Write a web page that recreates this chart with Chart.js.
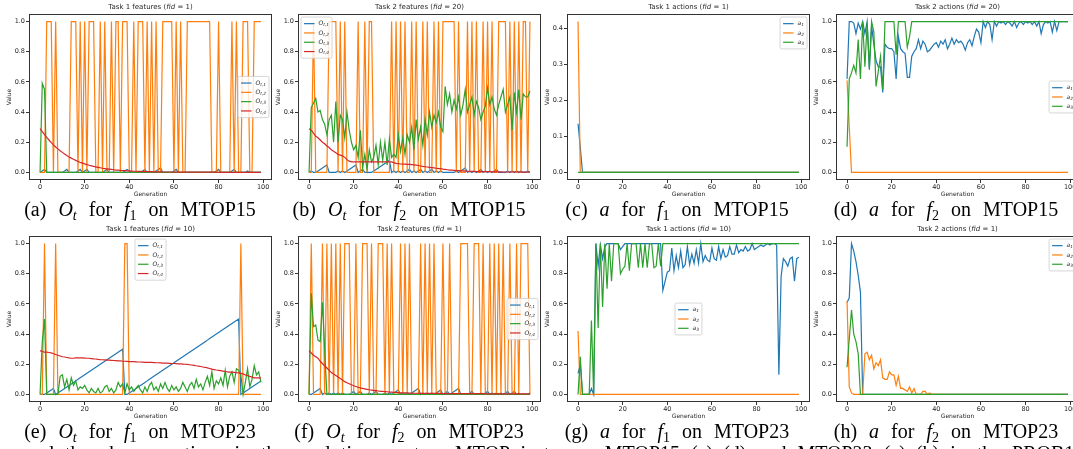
<!DOCTYPE html>
<html><head><meta charset="utf-8">
<script src="https://cdn.jsdelivr.net/npm/chart.js@4.4.0/dist/chart.umd.min.js"></script>
<style>
html,body{margin:0;padding:0;width:1073px;height:449px;overflow:hidden;background:#fff;position:relative;}
canvas{position:absolute;}
.cap{position:absolute;font-family:'Liberation Serif','Times New Roman',serif;font-size:20px;line-height:22px;white-space:nowrap;color:#000;transform:translateX(-50%);word-spacing:7px;}
.cap sub{font-size:14px;vertical-align:-4px;line-height:0;}
.txt{position:absolute;font-family:'Liberation Serif','Times New Roman',serif;font-size:20px;line-height:22px;white-space:nowrap;color:#000;word-spacing:6px;}
</style></head><body>

<canvas id="ca" width="272" height="200" style="left:0px;top:0px"></canvas>
<canvas id="cb" width="272" height="200" style="left:269px;top:0px"></canvas>
<canvas id="cc" width="272" height="200" style="left:538px;top:0px"></canvas>
<canvas id="cd" width="272" height="200" style="left:807px;top:0px"></canvas>
<canvas id="ce" width="272" height="200" style="left:0px;top:222px"></canvas>
<canvas id="cf" width="272" height="200" style="left:269px;top:222px"></canvas>
<canvas id="cg" width="272" height="200" style="left:538px;top:222px"></canvas>
<canvas id="ch" width="272" height="200" style="left:807px;top:222px"></canvas>

<div class="cap" style="left:140px;top:198px">(a) <i>O<sub>t</sub></i> for <i>f</i><sub>1</sub> on MTOP15</div>
<div class="cap" style="left:409px;top:198px">(b) <i>O<sub>t</sub></i> for <i>f</i><sub>2</sub> on MTOP15</div>
<div class="cap" style="left:677px;top:198px">(c) <i>a</i> for <i>f</i><sub>1</sub> on MTOP15</div>
<div class="cap" style="left:946px;top:198px">(d) <i>a</i> for <i>f</i><sub>2</sub> on MTOP15</div>
<div class="cap" style="left:140px;top:420px">(e) <i>O<sub>t</sub></i> for <i>f</i><sub>1</sub> on MTOP23</div>
<div class="cap" style="left:409px;top:420px">(f) <i>O<sub>t</sub></i> for <i>f</i><sub>2</sub> on MTOP23</div>
<div class="cap" style="left:677px;top:420px">(g) <i>a</i> for <i>f</i><sub>1</sub> on MTOP23</div>
<div class="cap" style="left:946px;top:420px">(h) <i>a</i> for <i>f</i><sub>2</sub> on MTOP23</div>
<div class="txt" style="left:25px;top:442px">and the chosen actions in the evolution on two MTOP instances MTOP15 (a)–(d) and MTOP23 (e)–(h) in the PROB1 problem.</div>

<script>
// ---------- shared categories / ticks ----------
const GENERATIONS = Array.from({length: 100}, (_, i) => i);
const X_TICKS = [0, 20, 40, 60, 80, 100];
const Y_TICKS_UNIT = [0, 0.2, 0.4, 0.6, 0.8, 1.0];
const Y_TICKS_SMALL = [0, 0.1, 0.2, 0.3, 0.4];

// ---------- (a) Task 1 features fid=1, MTOP15 ----------
const A_O1 = [0,0.01,0.02,0,0,0,0,0,0,0,
  0,0.01,0.02,0,0,0,0,0.01,0.02,0,
  0.01,0.02,0,0,0,0,0,0,0,0.01,
  0.02,0,0,0,0,0,0,0,0.01,0.02,
  0.01,0,0,0,0,0,0.01,0.02,0,0,
  0,0,0.01,0.02,0.03,0,0,0,0,0,
  0.01,0.02,0,0,0,0,0,0,0,0,
  0,0,0,0,0,0,0,0,0,0.01,
  0.02,0,0,0,0,0,0.01,0.02,0,0,
  0,0,0,0.01,0,0,0,0,0,0];
const A_O2 = [0,0,0,1,1,1,0,1,0,0,
  0,0,0,0,1,1,1,0,1,0,
  1,0,1,1,1,0,0,1,0,1,
  0,0,1,0,1,1,0,1,1,1,
  0,0,1,0,1,1,1,0,1,0,
  1,0,1,0,0,1,1,1,1,1,
  0,1,0,1,0,0,1,1,1,1,
  1,1,1,1,1,1,1,0,0,0,
  1,0,0,0,0,0,1,0,1,0,
  0,1,1,1,0,0,1,1,1,1];
const A_O3 = [0,0.59,0.55,0,0,0,0,0,0,0,
  0,0,0,0,0,0,0,0,0,0,
  0,0,0,0,0,0,0,0,0,0,
  0,0,0,0,0,0,0,0,0,0,
  0,0,0,0,0,0,0,0,0,0,
  0,0,0,0,0,0,0,0,0,0,
  0,0,0,0,0,0,0,0,0,0,
  0,0,0,0,0,0,0,0,0,0,
  0,0,0,0,0,0,0,0,0,0,
  0,0,0,0,0,0,0,0,0,0];
const A_O4 = [0.29,0.27,0.25,0.232,0.215,0.198,0.183,0.169,0.156,0.144,
  0.133,0.122,0.112,0.103,0.095,0.087,0.08,0.073,0.067,0.062,
  0.057,0.052,0.048,0.044,0.04,0.037,0.034,0.031,0.028,0.026,
  0.024,0.022,0.02,0.018,0.016,0.015,0.014,0.013,0.012,0.011,
  0.01,0.009,0.008,0.008,0.007,0.007,0.006,0.006,0.005,0.005,
  0.005,0.004,0.004,0.004,0.004,0.003,0.003,0.003,0.003,0.003,
  0.002,0.002,0.002,0.002,0.002,0.002,0.002,0.002,0.002,0.002,
  0.002,0.002,0.002,0.002,0.002,0.002,0.002,0.002,0.002,0.002,
  0.001,0.001,0.001,0.001,0.001,0.001,0.001,0.001,0.001,0.001,
  0.001,0.001,0.001,0.001,0.001,0.001,0.001,0.001,0.001,0.001];

// ---------- (b) Task 2 features fid=20, MTOP15 ----------
const B_O1 = [0,0.01,0,0,0.01,0.02,0.03,0.04,0.05,0,
  0,0,0,0.01,0,0.01,0,0.01,0.02,0.03,
  0.04,0.05,0,0.01,0.02,0,0,0,0,0.01,
  0.02,0.03,0.04,0.05,0.06,0.07,0.08,0,0.01,0,
  0.01,0,0.01,0,0.01,0.02,0,0.01,0,0.01,
  0.02,0,0.01,0,0.01,0.02,0,0.01,0,0.01,
  0,0,0,0,0,0,0.01,0,0.01,0.02,
  0.03,0,0.01,0,0.01,0,0.01,0.02,0,0.01,
  0,0.01,0,0.01,0.02,0,0,0,0,0.01,
  0,0.01,0,0.01,0,0.01,0,0,0.01,0];
const B_O2 = [0,0,1,0,0,0,0,0,0,1,
  1,1,1,0,1,0,1,0,0,0,
  0,0,1,0,0,1,0,1,1,0,
  0,0,0,0,0,0,0,1,0,1,
  0,1,0,1,0,0,1,0,1,0,
  0,1,0,1,0,0,1,0,1,0,
  1,1,1,1,1,1,0,1,0,0,
  0,1,0,1,0,1,0,0,1,0,
  1,0,1,0,0,1,1,1,1,0,
  1,0,1,0,1,0,1,1,0,1];
const B_O3 = [0,0.43,0.46,0.49,0.4,0.41,0.35,0.32,0.25,0.35,
  0.38,0.2,0.47,0.2,0.38,0.35,0.23,0.4,0.28,0.2,
  0.15,0.18,0.1,0.28,0.03,0.12,0.02,0.15,0.07,0.1,
  0.18,0.05,0.2,0.08,0.2,0.05,0.22,0.1,0.12,0.1,
  0.25,0.14,0.23,0.12,0.25,0.2,0.3,0.15,0.35,0.22,
  0.3,0.18,0.35,0.25,0.4,0.3,0.38,0.33,0.4,0.3,
  0.27,0.57,0.45,0.52,0.4,0.48,0.42,0.5,0.38,0.45,
  0.55,0.4,0.45,0.5,0.38,0.47,0.43,0.35,0.4,0.44,
  0.56,0.45,0.5,0.42,0.38,0.45,0.5,0.55,0.4,0.45,
  0.5,0.28,0.53,0.4,0.55,0.35,0.52,0.5,0.5,0.54];
const B_O4 = [0.29,0.28,0.26,0.24,0.23,0.215,0.2,0.19,0.175,0.165,
  0.15,0.14,0.13,0.12,0.115,0.11,0.1,0.085,0.075,0.07,
  0.07,0.07,0.07,0.07,0.07,0.07,0.07,0.07,0.07,0.07,
  0.07,0.07,0.07,0.07,0.07,0.07,0.07,0.07,0.065,0.06,
  0.058,0.056,0.055,0.055,0.054,0.053,0.052,0.05,0.048,0.046,
  0.043,0.04,0.038,0.036,0.034,0.032,0.03,0.028,0.026,0.025,
  0.022,0.02,0.018,0.016,0.015,0.014,0.013,0.012,0.011,0.01,
  0.009,0.008,0.008,0.007,0.007,0.006,0.006,0.006,0.005,0.005,
  0.005,0.005,0.004,0.004,0.004,0.004,0.004,0.003,0.003,0.003,
  0.003,0.003,0.003,0.003,0.002,0.002,0.002,0.002,0.002,0.002];

// ---------- (c) Task 1 actions fid=1, MTOP15 ----------
const C_A1 = [0.135,0.07,0,0,0,0,0,0,0,0,
  0,0,0,0,0,0,0,0,0,0, 0,0,0,0,0,0,0,0,0,0,
  0,0,0,0,0,0,0,0,0,0, 0,0,0,0,0,0,0,0,0,0,
  0,0,0,0,0,0,0,0,0,0, 0,0,0,0,0,0,0,0,0,0,
  0,0,0,0,0,0,0,0,0,0, 0,0,0,0,0,0,0,0,0,0,
  0,0,0,0,0,0,0,0,0,0];
const C_A2 = [0.418,0,0,0,0,0,0,0,0,0,
  0,0,0,0,0,0,0,0,0,0, 0,0,0,0,0,0,0,0,0,0,
  0,0,0,0,0,0,0,0,0,0, 0,0,0,0,0,0,0,0,0,0,
  0,0,0,0,0,0,0,0,0,0, 0,0,0,0,0,0,0,0,0,0,
  0,0,0,0,0,0,0,0,0,0, 0,0,0,0,0,0,0,0,0,0,
  0,0,0,0,0,0,0,0,0,0];
const C_A3 = [0,0,0,0,0,0,0,0,0,0,
  0,0,0,0,0,0,0,0,0,0, 0,0,0,0,0,0,0,0,0,0,
  0,0,0,0,0,0,0,0,0,0, 0,0,0,0,0,0,0,0,0,0,
  0,0,0,0,0,0,0,0,0,0, 0,0,0,0,0,0,0,0,0,0,
  0,0,0,0,0,0,0,0,0,0, 0,0,0,0,0,0,0,0,0,0,
  0,0,0,0,0,0,0,0,0,0];

// ---------- (d) Task 2 actions fid=20, MTOP15 ----------
const D_A1 = [0.62,1.0,1.0,0.99,0.92,0.99,0.95,1.0,0.92,1.0,
  0.68,0.97,0.85,0.74,0.7,0.7,0.53,0.85,0.83,0.82,
  0.82,0.8,0.62,0.9,0.82,0.8,0.79,0.63,0.63,0.77,
  0.8,0.82,0.88,0.82,0.87,0.85,0.8,0.81,0.83,0.85,
  0.86,0.83,0.87,0.85,0.88,0.82,0.85,0.89,0.85,0.88,
  0.86,0.87,0.85,0.81,0.86,0.88,0.84,0.9,0.95,0.93,
  0.86,1.0,0.96,1.0,0.98,0.88,1.0,0.97,1.0,0.99,
  1.0,0.98,1.0,0.99,0.97,1.0,0.96,0.99,1.0,0.98,
  1.0,0.99,1.0,0.98,1.0,0.97,1.0,0.92,0.98,1.0,
  0.99,1.0,0.93,1.0,0.94,1.0,1.0,1.0,1.0,1.0];
const D_A2 = [0.61,0.3,0,0,0,0,0,0,0,0,
  0,0,0,0,0,0,0,0,0,0, 0,0,0,0,0,0,0,0,0,0,
  0,0,0,0,0,0,0,0,0,0, 0,0,0,0,0,0,0,0,0,0,
  0,0,0,0,0,0,0,0,0,0, 0,0,0,0,0,0,0,0,0,0,
  0,0,0,0,0,0,0,0,0,0, 0,0,0,0,0,0,0,0,0,0,
  0,0,0,0,0,0,0,0,0,0];
const D_A3 = [0.17,0.62,0.66,0.71,0.66,0.88,0.62,1.0,0.7,0.99,
  0.69,1.0,0.93,0.57,0.67,0.77,0.55,1.0,1.0,1.0,
  1.0,1.0,0.78,1.0,1.0,1.0,1.0,0.83,0.9,1.0,
  1,1,1,1,1,1,1,1,1,1, 1,1,1,1,1,1,1,1,1,1,
  1,1,1,1,1,1,1,1,1,1, 1,1,1,1,1,1,1,1,1,1,
  1,1,1,1,1,1,1,1,1,1, 1,1,1,1,1,1,1,1,1,1,
  1,1,1,1,1,1,1,1,1,1];

// ---------- (e) Task 1 features fid=10, MTOP23 ----------
const E_O1 = [0,0,0,0.01,0.02,0.03,0.04,0,0.01,0.02,
  0.03,0.04,0.05,0.06,0.07,0.08,0.09,0.1,0.11,0.12,
  0.13,0.14,0.15,0.16,0.17,0.18,0.19,0.2,0.21,0.22,
  0.23,0.24,0.25,0.26,0.27,0.28,0.29,0.3,0,0,
  0.01,0.02,0.03,0.04,0.05,0.06,0.07,0.08,0.09,0.1,
  0.11,0.12,0.13,0.14,0.15,0.16,0.17,0.18,0.19,0.2,
  0.21,0.22,0.23,0.24,0.25,0.26,0.27,0.28,0.29,0.3,
  0.31,0.32,0.33,0.34,0.35,0.36,0.37,0.38,0.39,0.4,
  0.41,0.42,0.43,0.44,0.45,0.46,0.47,0.48,0.49,0.5,
  0,0.01,0.02,0.03,0.04,0.05,0.06,0.07,0.08,0.09];
const E_O2 = [0,0,1,0,0,0,0,1,0,0,
  0,0,0,0,0,0,0,0,0,0, 0,0,0,0,0,0,0,0,0,0,
  0,0,0,0,0,0,0,0,1,1, 0,0,0,0,0,0,0,0,0,0,
  0,0,0,0,0,0,0,0,0,0, 0,0,0,0,0,0,0,0,0,0,
  0,0,0,0,0,0,0,0,0,0, 0,0,0,0,0,0,0,0,0,0,
  1,0,0,0,0,0,0,0,0,0];
const E_O3 = [0,0.35,0.5,0,0,0,0,0,0,0.12,
  0.13,0.05,0.1,0.03,0.11,0.06,0.09,0.03,0.05,0.04,
  0.06,0.03,0.01,0.04,0.02,0.01,0.04,0.01,0.02,0.05,
  0.06,0.02,0.04,0.01,0.03,0.08,0.05,0.07,0.01,0.07,
  0.03,0.05,0.02,0.04,0.06,0.03,0.01,0.05,0.02,0.06,
  0.08,0.03,0.05,0.02,0.07,0.04,0.08,0.04,0.02,0.06,
  0.03,0.05,0.02,0.04,0.08,0.05,0.02,0.06,0.08,0.04,
  0.1,0.05,0.07,0.03,0.08,0.12,0.06,0.15,0.04,0.09,
  0.07,0.11,0.06,0.16,0.05,0.12,0.15,0.08,0.17,0.16,
  0.13,0.0,0.08,0.17,0.05,0.1,0.19,0.13,0.15,0.08];
const E_O4 = [0.29,0.285,0.28,0.28,0.278,0.275,0.27,0.265,0.26,0.255,
  0.25,0.248,0.245,0.242,0.24,0.24,0.242,0.243,0.242,0.242,
  0.241,0.24,0.24,0.238,0.236,0.235,0.232,0.23,0.23,0.229,
  0.228,0.227,0.226,0.225,0.224,0.223,0.222,0.22,0.22,0.219,
  0.218,0.218,0.217,0.216,0.215,0.215,0.214,0.213,0.213,0.212,
  0.212,0.211,0.21,0.21,0.209,0.208,0.208,0.207,0.206,0.205,
  0.205,0.204,0.203,0.202,0.201,0.2,0.199,0.197,0.195,0.193,
  0.19,0.188,0.185,0.182,0.18,0.176,0.172,0.168,0.165,0.162,
  0.16,0.158,0.155,0.152,0.15,0.148,0.148,0.146,0.144,0.143,
  0.14,0.136,0.13,0.125,0.12,0.115,0.11,0.11,0.11,0.108];

// ---------- (f) Task 2 features fid=1, MTOP23 ----------
const F_O1 = [0,0,0.01,0.02,0.03,0.04,0,0.01,0,0.01,
  0,0.01,0,0.01,0,0.01,0,0,0,0.01,
  0.02,0,0.01,0.02,0,0,0,0.01,0,0.01,
  0.02,0,0,0,0.01,0,0.01,0,0.01,0.02,
  0.03,0,0.01,0,0.01,0,0.01,0.02,0.03,0.04,
  0,0.01,0,0.01,0,0.01,0,0.01,0.02,0.03,
  0,0.01,0.02,0,0.01,0.02,0.03,0.04,0,0,
  0,0,0.01,0.02,0,0,0,0.01,0,0.01,
  0.02,0,0.01,0,0.01,0,0.01,0,0.01,0.02,
  0,0.01,0.02,0,0.01,0,0,0,0,0.01];
const F_O2 = [0,1,0,0,0,0,1,0,1,0,
  1,0,1,0,1,0,1,1,1,0,
  0,1,0,0,1,1,1,0,1,0,
  0,1,1,1,0,1,0,1,0,0,
  0,1,0,1,0,1,0,0,0,0,
  1,0,1,0,1,0,1,0,0,0,
  1,0,0,1,0,0,0,0,1,1,
  1,1,0,0,1,1,1,0,1,0,
  0,1,0,1,0,1,0,1,0,0,
  1,0,0,1,0,1,1,1,1,0];
const F_O3 = [0,0.67,0.45,0.46,0.36,0.35,0.61,0.3,0,0,
  0,0,0,0,0,0,0,0,0,0, 0,0,0,0,0,0,0,0,0,0,
  0,0,0,0,0,0,0,0,0,0, 0,0,0,0,0,0,0,0,0,0,
  0,0,0,0,0,0,0,0,0,0, 0,0,0,0,0,0,0,0,0,0,
  0,0,0,0,0,0,0,0,0,0, 0,0,0,0,0,0,0,0,0,0,
  0,0,0,0,0,0,0,0,0,0];
const F_O4 = [0.29,0.275,0.26,0.25,0.24,0.22,0.205,0.19,0.175,0.16,
  0.145,0.135,0.125,0.115,0.105,0.095,0.085,0.078,0.071,0.064,
  0.058,0.053,0.048,0.044,0.04,0.037,0.034,0.031,0.029,0.027,
  0.025,0.023,0.021,0.02,0.019,0.018,0.016,0.015,0.014,0.013,
  0.012,0.011,0.011,0.01,0.01,0.009,0.009,0.008,0.008,0.008,
  0.007,0.007,0.007,0.007,0.007,0.007,0.007,0.007,0.007,0.007,
  0.006,0.006,0.006,0.006,0.006,0.006,0.006,0.006,0.006,0.006,
  0.005,0.005,0.005,0.005,0.005,0.005,0.005,0.005,0.005,0.005,
  0.004,0.004,0.004,0.004,0.004,0.004,0.004,0.004,0.004,0.004,
  0.004,0.004,0.004,0.004,0.004,0.004,0.004,0.004,0.004,0.004];

// ---------- (g) Task 1 actions fid=10, MTOP23 ----------
const G_A1 = [0.14,0.2,0,0,0,0,0.04,0,1.0,0.85,
  0.99,0.9,0.98,1.0,1.0,1.0,1.0,1.0,1.0,0.96,
  0.98,1.0,1.0,1.0,1.0,1.0,1.0,1.0,1.0,1.0,
  1.0,1.0,1.0,1.0,1.0,1.0,1.0,1.0,0.69,0.75,
  0.81,0.82,0.97,0.82,0.92,0.84,0.95,0.84,0.86,0.98,
  0.86,0.93,0.87,0.96,0.87,1.0,0.88,0.92,0.89,0.88,
  0.97,0.9,0.89,0.98,0.9,0.96,0.91,0.92,0.98,0.93,
  0.93,0.99,0.94,0.96,0.95,0.98,0.95,0.96,1.0,0.96,
  0.97,0.98,0.99,0.98,0.99,1.0,0.99,1.0,1.0,0.99,
  0.13,0.78,0.9,0.88,0.85,0.9,0.91,0.75,0.9,0.91];
const G_A2 = [0.42,0,0,0,0,0,0,0,0,0,
  0,0,0,0,0,0,0,0,0,0, 0,0,0,0,0,0,0,0,0,0,
  0,0,0,0,0,0,0,0,0,0, 0,0,0,0,0,0,0,0,0,0,
  0,0,0,0,0,0,0,0,0,0, 0,0,0,0,0,0,0,0,0,0,
  0,0,0,0,0,0,0,0,0,0, 0,0,0,0,0,0,0,0,0,0,
  0,0,0,0,0,0,0,0,0,0];
const G_A3 = [0,0.25,0,0,0,0,0.49,0,1.0,0.44,
  1.0,0.58,1.0,0.7,1.0,0.75,1.0,1.0,1.0,0.8,
  0.83,0.85,1.0,0.82,1.0,1.0,1.0,0.84,1.0,0.84,
  1.0,0.84,1.0,1.0,0.84,0.85,1.0,0.85,1.0,1.0,
  1,1,1,1,1,1,1,1,1,1, 1,1,1,1,1,1,1,1,1,1,
  1,1,1,1,1,1,1,1,1,1, 1,1,1,1,1,1,1,1,1,1,
  1,1,1,1,1,1,1,1,1,1, 1,1,1,1,1,1,1,1,1,1];

// ---------- (h) Task 2 actions fid=1, MTOP23 ----------
const H_A1 = [0.61,0.64,1.0,0.95,0.88,0.79,0.68,0,0,0,
  0,0,0,0,0,0,0,0,0,0, 0,0,0,0,0,0,0,0,0,0,
  0,0,0,0,0,0,0,0,0,0, 0,0,0,0,0,0,0,0,0,0,
  0,0,0,0,0,0,0,0,0,0, 0,0,0,0,0,0,0,0,0,0,
  0,0,0,0,0,0,0,0,0,0, 0,0,0,0,0,0,0,0,0,0,
  0,0,0,0,0,0,0,0,0,0];
const H_A2 = [0.62,0.05,0.01,0,0,0,0,0,0.27,0.28,
  0.23,0.26,0.17,0.21,0.19,0.23,0.11,0.1,0.1,0.15,
  0.13,0.13,0.06,0.12,0.04,0.04,0.03,0.02,0.05,0.01,
  0.04,0,0,0,0.02,0.02,0,0.01,0,0,
  0,0,0,0,0,0,0,0,0,0, 0,0,0,0,0,0,0,0,0,0,
  0,0,0,0,0,0,0,0,0,0, 0,0,0,0,0,0,0,0,0,0,
  0,0,0,0,0,0,0,0,0,0, 0,0,0,0,0,0,0,0,0,0];
const H_A3 = [0.18,0.37,0.56,0.4,0.35,0.27,0,0,0,0,
  0,0,0,0,0,0,0,0,0,0, 0,0,0,0,0,0,0,0,0,0,
  0,0,0,0,0,0,0,0,0,0, 0,0,0,0,0,0,0,0,0,0,
  0,0,0,0,0,0,0,0,0,0, 0,0,0,0,0,0,0,0,0,0,
  0,0,0,0,0,0,0,0,0,0, 0,0,0,0,0,0,0,0,0,0,
  0,0,0,0,0,0,0,0,0,0];

// ---------- styling ----------
const COLORS = ['#1f77b4', '#ff7f0e', '#2ca02c', '#d62728'];
const O_LABELS = [{m:'O', s:'t,1'}, {m:'O', s:'t,2'}, {m:'O', s:'t,3'}, {m:'O', s:'t,4'}];
const A_LABELS = [{m:'a', s:'1'}, {m:'a', s:'2'}, {m:'a', s:'3'}];
const FONT = '"DejaVu Sans", sans-serif';
const INK = '#262626';

function drawRich(ctx, segs, cx, cy, size) {
  let total = 0;
  const widths = segs.map(([t, it]) => {
    ctx.font = (it ? 'italic ' : '') + size + 'px ' + FONT;
    const w = ctx.measureText(t).width; total += w; return w;
  });
  let x = cx - total / 2;
  ctx.textBaseline = 'middle'; ctx.textAlign = 'left'; ctx.fillStyle = INK;
  segs.forEach(([t, it], i) => {
    ctx.font = (it ? 'italic ' : '') + size + 'px ' + FONT;
    ctx.fillText(t, x, cy); x += widths[i];
  });
}

function drawLegend(ctx, ca, lg) {
  const items = lg.items, n = items.length;
  const mainF = 'italic 6px ' + FONT, subF = 'italic 4.3px ' + FONT;
  let tw = 0;
  for (const it of items) {
    ctx.font = mainF; let w = ctx.measureText(it.m).width;
    ctx.font = subF; w += ctx.measureText(it.s).width;
    tw = Math.max(tw, w);
  }
  const pad = 2.5, hl = 10.5, gap = 4, rowH = 9.3, m = 3;
  const bw = pad + hl + gap + tw + pad + 1, bh = n * rowH + 2 * pad - 1;
  let x, y;
  const loc = lg.loc;
  if (loc.includes('left')) x = ca.left + m;
  else if (loc.includes('right')) x = ca.right - m - bw;
  else x = (ca.left + ca.right) / 2 - bw / 2;
  if (loc.startsWith('upper')) y = ca.top + m;
  else if (loc.startsWith('lower')) y = ca.bottom - m - bh;
  else y = (ca.top + ca.bottom) / 2 - bh / 2;
  ctx.beginPath();
  if (ctx.roundRect) ctx.roundRect(x, y, bw, bh, 1.5); else ctx.rect(x, y, bw, bh);
  ctx.fillStyle = 'rgba(255,255,255,0.8)'; ctx.fill();
  ctx.strokeStyle = '#cccccc'; ctx.lineWidth = 0.8; ctx.stroke();
  items.forEach((it, i) => {
    const cy = y + pad + rowH * i + rowH / 2 - 0.5;
    ctx.strokeStyle = lg.colors[i]; ctx.lineWidth = 1.2;
    ctx.beginPath(); ctx.moveTo(x + pad + 0.5, cy); ctx.lineTo(x + pad + 0.5 + hl, cy); ctx.stroke();
    let tx = x + pad + 0.5 + hl + gap;
    ctx.fillStyle = INK; ctx.textBaseline = 'middle'; ctx.textAlign = 'left';
    ctx.font = mainF; ctx.fillText(it.m, tx, cy);
    tx += ctx.measureText(it.m).width;
    ctx.font = subF; ctx.fillText(it.s, tx, cy + 1.6);
  });
}

const decorPlugin = {
  id: 'decor',
  afterDatasetsDraw(chart) {
    const d = chart.canvas._decor; if (!d) return;
    const {ctx, chartArea: ca} = chart;
    ctx.save();
    ctx.strokeStyle = '#333'; ctx.lineWidth = 1;
    const L = Math.round(ca.left) + 0.5, T = Math.round(ca.top) + 0.5;
    const R = Math.round(ca.right) - 0.5, B = Math.round(ca.bottom) - 0.5;
    ctx.strokeRect(L, T, R - L, B - T);
    drawRich(ctx, d.title, (ca.left + ca.right) / 2, ca.top - 7, 7);
    drawLegend(ctx, ca, d.legend);
    ctx.restore();
  }
};

function makeChart(id, series, labels, title, loc, yMin, yMax, yTicks) {
  const canvas = document.getElementById(id);
  canvas._decor = {title, legend: {items: labels, loc, colors: COLORS}};
  const n = series.length;
  const datasets = series.map((arr, i) => ({
    label: labels[i].m + labels[i].s,
    data: GENERATIONS.map((g, j) => ({x: g, y: arr[j]})),
    borderColor: COLORS[i], backgroundColor: COLORS[i],
    borderWidth: 1.2, pointRadius: 0, tension: 0, fill: false,
    order: n - 1 - i
  }));
  const tickFont = {family: FONT, size: 6.5};
  new Chart(canvas, {
    type: 'line',
    data: {datasets},
    options: {
      responsive: false, animation: false, devicePixelRatio: 1,
      layout: {padding: {left: 4, top: 14, right: 0, bottom: 0}},
      plugins: {legend: {display: false}, tooltip: {enabled: false}, title: {display: false}},
      scales: {
        x: {
          type: 'linear', min: -4.95, max: 103.95, bounds: 'data',
          afterBuildTicks: s => { s.ticks = X_TICKS.map(v => ({value: v})); },
          afterFit: s => { s.height = 20; },
          ticks: {font: tickFont, color: INK, padding: 0, maxRotation: 0, autoSkip: false,
                  callback: v => String(v)},
          grid: {drawOnChartArea: false, drawTicks: true, tickLength: 3, color: '#333', lineWidth: 1},
          border: {display: false},
          title: {display: true, text: 'Generation', font: {family: FONT, size: 6}, color: INK,
                  padding: {top: 0, bottom: 2}}
        },
        y: {
          type: 'linear', min: yMin, max: yMax, bounds: 'data',
          afterBuildTicks: s => { s.ticks = yTicks.map(v => ({value: v})); },
          afterFit: s => { s.width = 25; },
          ticks: {font: tickFont, color: INK, padding: 1, autoSkip: false,
                  callback: v => Number(v).toFixed(1)},
          grid: {drawOnChartArea: false, drawTicks: true, tickLength: 3, color: '#333', lineWidth: 1},
          border: {display: false},
          title: {display: true, text: 'Value', font: {family: FONT, size: 6}, color: INK,
                  padding: {top: 2, bottom: 0}}
        }
      }
    },
    plugins: [decorPlugin]
  });
}

const T = (pre, fid) => [[pre + ' (', false], ['fid', true], [' = ' + fid + ')', false]];

makeChart('ca', [A_O1, A_O2, A_O3, A_O4], O_LABELS, T('Task 1 features', 1), 'center right', -0.05, 1.05, Y_TICKS_UNIT);
makeChart('cb', [B_O1, B_O2, B_O3, B_O4], O_LABELS, T('Task 2 features', 20), 'upper left', -0.05, 1.05, Y_TICKS_UNIT);
makeChart('cc', [C_A1, C_A2, C_A3], A_LABELS, T('Task 1 actions', 1), 'upper right', -0.0209, 0.4389, Y_TICKS_SMALL);
makeChart('cd', [D_A1, D_A2, D_A3], A_LABELS, T('Task 2 actions', 20), 'center right', -0.05, 1.05, Y_TICKS_UNIT);
makeChart('ce', [E_O1, E_O2, E_O3, E_O4], O_LABELS, T('Task 1 features', 10), 'upper center', -0.05, 1.05, Y_TICKS_UNIT);
makeChart('cf', [F_O1, F_O2, F_O3, F_O4], O_LABELS, T('Task 2 features', 1), 'center right', -0.05, 1.05, Y_TICKS_UNIT);
makeChart('cg', [G_A1, G_A2, G_A3], A_LABELS, T('Task 1 actions', 10), 'center', -0.05, 1.05, Y_TICKS_UNIT);
makeChart('ch', [H_A1, H_A2, H_A3], A_LABELS, T('Task 2 actions', 1), 'upper right', -0.05, 1.05, Y_TICKS_UNIT);
</script>
</body></html>
